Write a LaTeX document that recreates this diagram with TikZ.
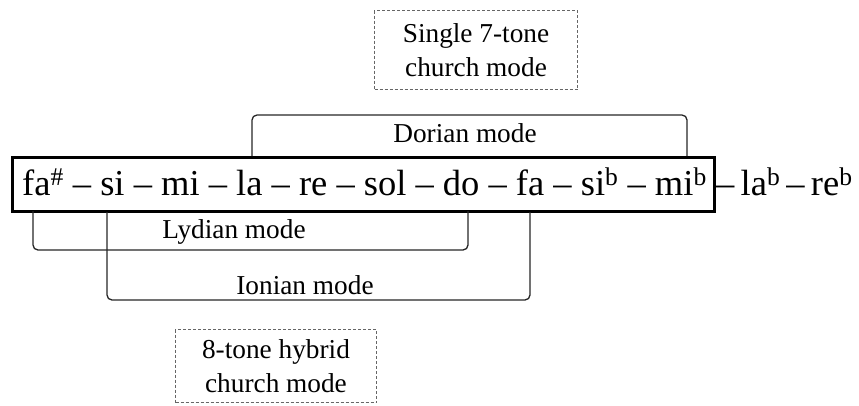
\documentclass[tikz,border=0pt]{standalone}
\usepackage{fontspec}
\setmainfont{Liberation Serif}
\begin{document}
\begin{tikzpicture}[x=1pt,y=1pt,
  notes/.style={inner sep=0pt, font=\fontsize{36.5}{40}\selectfont},
  mainbox/.style={draw, line width=2.6pt, inner sep=0pt},
  modelabel/.style={inner sep=0pt, font=\fontsize{27.3}{30}\selectfont},
  bracket/.style={draw=black!85, line width=1.3pt, rounded corners=5pt},
  dashbox/.style={draw=black!60, line width=1pt, dash pattern=on 3pt off 2pt, align=center,
    inner sep=0pt, font=\fontsize{27.3}{33.5}\selectfont}]
\useasboundingbox (0,0) rectangle (859,-405);
% main box
\node[mainbox, minimum width=702pt, minimum height=54pt, anchor=north west] (box) at (11,-156) {};
\node[notes, anchor=base west] (inside) at (22,-195)
  {fa\textsuperscript{\#} – si – mi – la – re – sol – do – fa – si\textsuperscript{b} – mi\textsuperscript{b}};
\node[notes, anchor=base west] (outside) at (716,-195)
  {\spaceskip=0.17em –  la\textsuperscript{b} – re\textsuperscript{b}};
% labels
\node[modelabel] (dorian) at (465,-133) {Dorian mode};
\node[modelabel] (lydian) at (234,-232) {Lydian mode};
\node[modelabel] (ionian) at (305,-285) {Ionian mode};
% dashed boxes
\node[dashbox, minimum width=203pt, minimum height=79pt, anchor=north west] (single) at (374,-10)
  {Single 7-tone\\church mode};
\node[dashbox, minimum width=201pt, minimum height=73pt, anchor=north west] (hybrid) at (175,-329)
  {8-tone hybrid\\church mode};
% bracket coordinates
\coordinate (dA) at (252,-156);
\coordinate (dB) at (687,-156);
\coordinate (dTop) at (252,-115);
\coordinate (lA) at (33,-211);
\coordinate (lB) at (468,-211);
\coordinate (lBot) at (33,-250);
\coordinate (iA) at (107,-212);
\coordinate (iB) at (530,-212);
\coordinate (iBot) at (107,-300);
\draw[bracket] (dA) -- (dTop) -| (dB);
\draw[bracket] (lA) -- (lBot) -| (lB);
\draw[bracket] (iA) -- (iBot) -| (iB);
\end{tikzpicture}
\end{document}
